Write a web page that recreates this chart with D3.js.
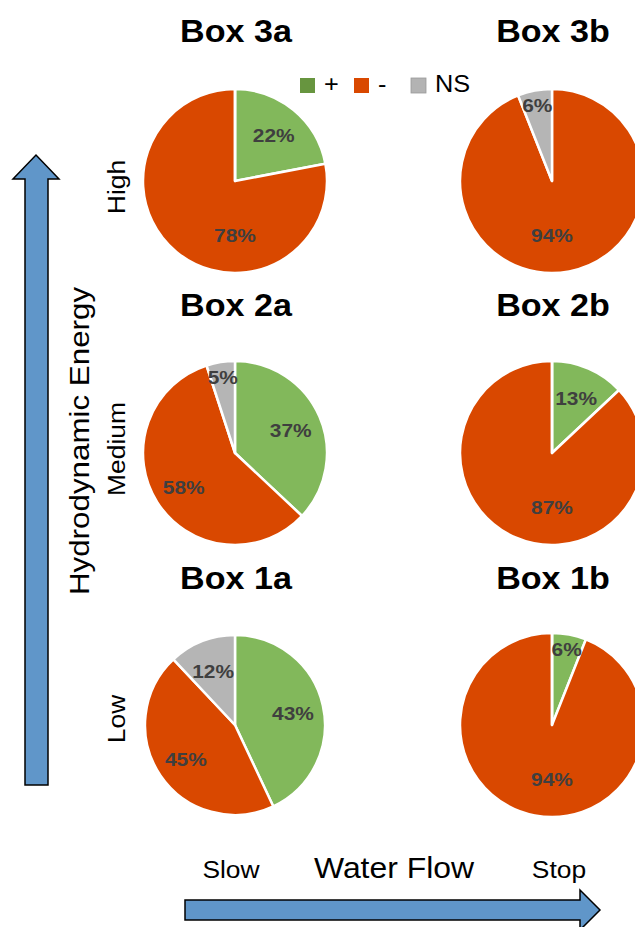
<!DOCTYPE html>
<html>
<head>
<meta charset="utf-8">
<script src="https://cdn.jsdelivr.net/npm/d3@7"></script>
<style>
  html, body { margin: 0; padding: 0; background: #fff; }
  svg { display: block; font-family: 'Liberation Sans', Arial, sans-serif; }
</style>
</head>
<body>
<svg id="chart" width="635" height="927"></svg>
<script>
// values
const boxes = ['Box 3a', 'Box 3b', 'Box 2a', 'Box 2b', 'Box 1a', 'Box 1b']
const positive = [22, 0, 37, 13, 43, 6]
const negative = [78, 94, 58, 87, 45, 94]
const notSig = [0, 6, 5, 0, 12, 0]
const legendLabels = ['+', '-', 'NS']
const energyLevels = ['High', 'Medium', 'Low']
const flowLevels = ['Slow', 'Stop']

const svg = d3.select('#chart')
const stretch = 1.1

const col = d3.scalePoint().domain(['a', 'b']).range([235, 552])
const row = d3.scalePoint().domain(['3', '2', '1']).range([181, 725])
const fill = d3.scaleOrdinal().domain(legendLabels).range(['#82b85b', '#d94800', '#b5b5b5'])
const swatch = d3.scaleOrdinal().domain(legendLabels).range(['#67953f', '#d94800', '#b3b3b3'])

function label(g, x, y, txt, size, opts = {}) {
  return g.append('text')
    .attr('transform', `translate(${x},${y}) rotate(${opts.rotate || 0}) scale(${stretch},1)`)
    .attr('text-anchor', opts.anchor || 'middle')
    .attr('font-size', size)
    .attr('font-weight', opts.bold ? 'bold' : 'normal')
    .attr('fill', opts.color || '#000')
    .text(txt)
}

const pie = d3.pie().sort(null).value(d => d.value)

boxes.forEach((name, i) => {
  const key = name.slice(-1)
  const r = name === 'Box 1a' ? 90 : 92
  const cx = col(key)
  const cy = row(name[4])
  const data = legendLabels.map((k, j) => ({ key: k, value: [positive, negative, notSig][j][i] }))
  const arc = d3.arc().innerRadius(0).outerRadius(r)

  label(svg, cx + 1, cy - (name[4] === '3' ? 139 : name[4] === '2' ? 137 : 136), name, 31, { bold: true })

  const g = svg.append('g').attr('transform', `translate(${cx},${cy})`)
  const arcs = pie(data)
  g.selectAll('path')
    .data(arcs)
    .enter()
    .append('path')
    .attr('d', arc)
    .attr('fill', d => fill(d.data.key))
    .attr('stroke', '#fff')
    .attr('stroke-width', 2.5)
    .attr('stroke-linejoin', 'round')

  arcs.filter(d => d.data.value > 0).forEach(d => {
    const share = d.data.value / 100
    let a = (d.startAngle + d.endAngle) / 2
    let k = 0.66
    if (share >= 0.75) { a = Math.PI; k = 0.58 }
    else if (share < 0.1) k = 0.85
    const lx = Math.sin(a) * r * k
    const ly = -Math.cos(a) * r * k
    label(g, lx, ly + 8, d.data.value + '%', 19, { bold: true, color: '#3f3f3f' })
  })
})

// legend
const lg = svg.append('g').attr('transform', 'translate(300,78)')
const legendX = d3.scaleOrdinal().domain(legendLabels).range([0, 54, 111])
legendLabels.forEach(k => {
  lg.append('rect')
    .attr('x', legendX(k)).attr('y', 0)
    .attr('width', 15).attr('height', 15)
    .attr('fill', swatch(k))
    .attr('stroke', k === 'NS' ? '#999' : 'none')
    .attr('stroke-width', 0.8)
  label(lg, legendX(k) + 24, 14, k, 23, { anchor: 'start' })
})

// vertical arrow
const arrowLine = d3.line()
svg.append('path')
  .attr('d', arrowLine([[25, 785], [25, 179], [13, 179], [36, 155], [59, 179], [48, 179], [48, 785]]) + 'Z')
  .attr('fill', '#6096c9')
  .attr('stroke', '#000')
  .attr('stroke-width', 1.5)
  .attr('stroke-linejoin', 'miter')

label(svg, 89, 441, 'Hydrodynamic Energy', 28.5, { rotate: -90 })
energyLevels.forEach((lvl, i) => {
  label(svg, 125, row(['3', '2', '1'][i]) + (i === 0 ? 6 : i === 2 ? -6 : -4), lvl, 24, { rotate: -90 })
})

// horizontal arrow
svg.append('path')
  .attr('d', arrowLine([[185, 900], [580, 900], [580, 890], [600, 910], [580, 930], [580, 920], [185, 920]]) + 'Z')
  .attr('fill', '#6096c9')
  .attr('stroke', '#000')
  .attr('stroke-width', 1.5)

label(svg, 394, 878, 'Water Flow', 29)
flowLevels.forEach((f, i) => {
  label(svg, col(['a', 'b'][i]) + (i === 0 ? -4 : 7), 878, f, 24)
})
</script>
</body>
</html>
